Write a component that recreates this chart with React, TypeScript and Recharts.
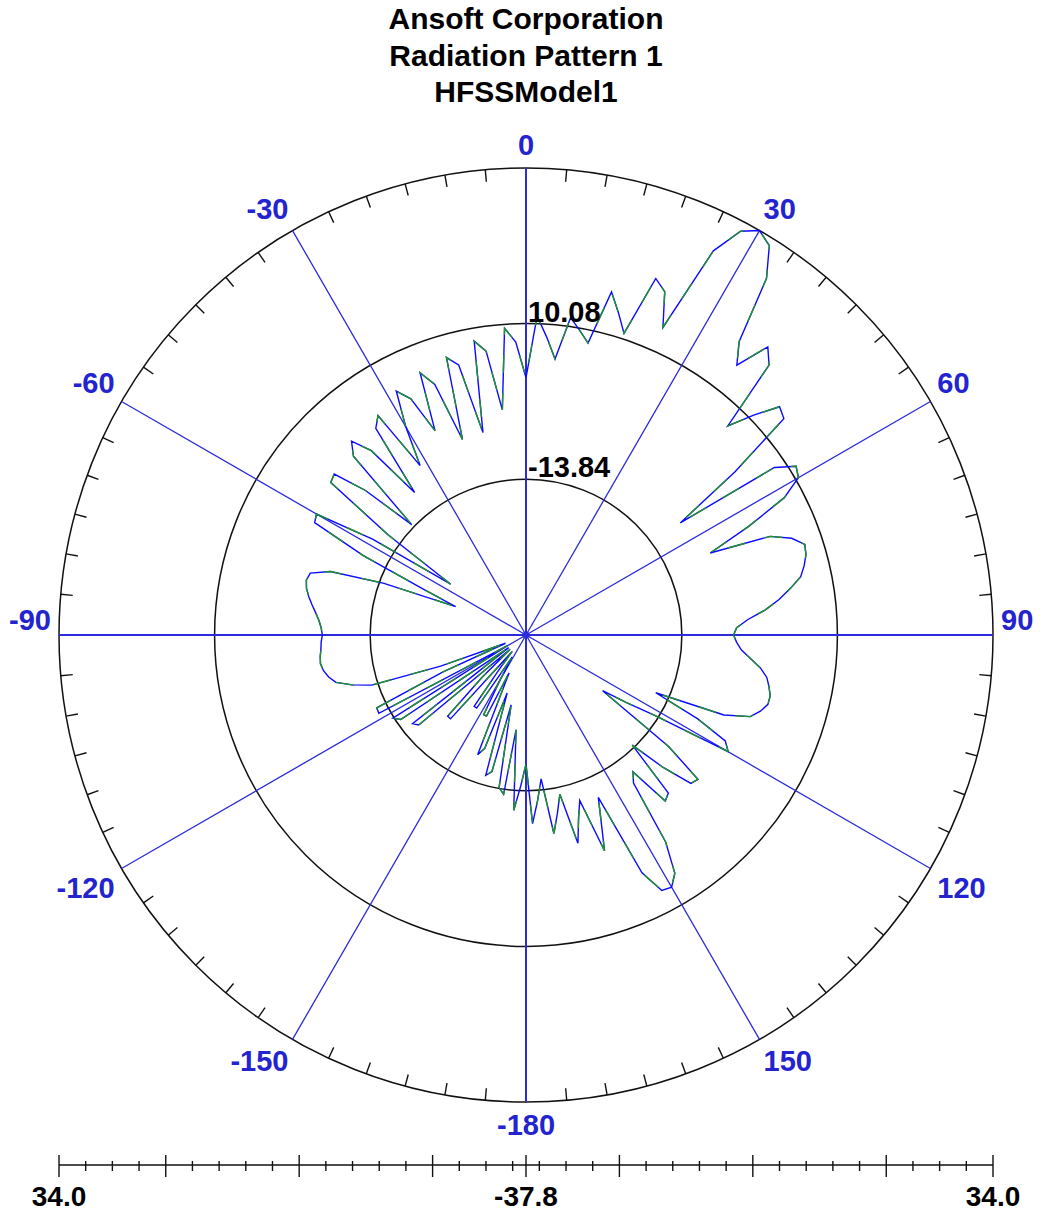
import React from 'react';
import {
  RadarChart,
  Radar,
  PolarGrid,
  PolarAngleAxis,
  PolarRadiusAxis,
  LineChart,
  Line,
  XAxis,
  YAxis,
} from 'recharts';

// far-field cut, sampled every 2 deg from -180 to 180
const thetaDeg: number[] = Array.from({ length: 181 }, (_, i) => -180 + i * 2);

// gain in dB, same order as thetaDeg
const gainDb: number[] = [
  -18.1, -14.7, -10.9, -23.3, -13.2, -14.1, -27.0, -16.3, -15.5, -28.6,
  -19.4, -18.1, -31.6, -24.1, -24.1, -30.1, -34.0, -24.4, -24.4, -31.6,
  -34.7, -20.6, -20.6, -28.6, -34.7, -16.4, -15.8, -34.7, -14.7, -13.8,
  -34.7, -12.3, -12.4, -24.0, -34.6, -24.0, -13.0, -10.1, -7.8, -6.9,
  -6.3, -6.0, -6.1, -6.3, -6.4, -6.6, -6.4, -6.0, -5.4, -4.7,
  -4.0, -3.4, -3.1, -3.4, -6.3, -14.7, -26.3, -20.9, -10.1, -1.1,
  -0.7, -10.1, -24.0, -11.7, 0.2, 0.6, -4.7, -13.5, 0.3, 2.2,
  -0.9, -10.1, 1.4, 2.8, -7.2, -0.9, 4.6, 2.5, -3.5, 5.6,
  3.1, -6.3, 6.5, 4.9, -6.1, 8.0, 6.2, -3.1, 9.4, 7.2,
  1.7, 11.2, 8.0, 4.8, 11.4, 9.7, 8.0, 16.5, 13.7, 10.9,
  20.5, 19.1, 13.9, 27.9, 32.5, 34.0, 32.8, 28.3, 17.9, 14.8,
  20.0, 18.0, 6.8, 10.8, 14.6, 13.9, 2.9, -8.6, 8.2, 11.1,
  10.5, 7.1, 0.2, -6.9, 2.6, 5.6, 7.2, 6.9, 6.2, 5.3,
  3.4, 1.4, -0.9, -3.7, -5.5, -6.0, -5.5, -4.7, -3.2, -1.5,
  -0.3, 0.3, 0.8, 0.8, 0.0, -1.2, -5.1, -16.1, -8.6, -3.2,
  -2.0, -14.7, -19.4, -23.4, -10.1, -3.4, -3.8, -8.6, -14.4, -5.2,
  -4.6, -11.2, -9.8, 0.5, 5.3, 6.9, 6.6, 2.8, -10.6, -7.1,
  -2.6, -11.2, -8.6, -4.9, -12.9, -10.1, -7.1, -15.7, -12.4, -8.9,
  -18.1,
];

const titleLines = ['Ansoft Corporation', 'Radiation Pattern 1', 'HFSSModel1'];

const radiusMin = -37.8;
const radiusMax = 34.0;
const ringValues = [-13.84, 10.08, 34.0];

const spokeDeg = [0, 30, 60, 90, 120, 150, 180, -150, -120, -90, -60, -30];
const mainAxesDeg = [0, 90, 180, -90];
const angleTicks = Array.from({ length: 72 }, (_, i) => -175 + i * 5);

// bottom dB scale: offset from centre, mirrored both sides
const scaleSpan = radiusMax - radiusMin;
const scaleStep = scaleSpan / 17.5;
const scaleMinor = Array.from({ length: 17 }, (_, k) => (k + 0.5) * scaleStep);
const scaleTicks = [-scaleSpan, ...scaleMinor.map((v) => -v).reverse(), 0, ...scaleMinor, scaleSpan];
const scaleMajorIdx = [3, 8, 13];
const scaleLabels = ['34.0', '-37.8', '34.0'];

const CX = 526;
const CY = 635;
const R = 467;

const FONT = '"Liberation Sans", Arial, sans-serif';
const LABEL_BLUE = '#2323cf';
const SPOKE_BLUE = '#2b2bdc';
const TRACE_BLUE = '#0a0aff';
const TRACE_GREEN = '#22922a';

const data = thetaDeg.map((t, i) => ({ theta: t, gain: gainDb[i] }));
const scaleData = [
  { x: -scaleSpan, y: 0 },
  { x: scaleSpan, y: 0 },
];

const AngleTick = (props: any) => {
  const t = props.payload.value as number;
  const a = (t * Math.PI) / 180;
  const s = Math.sin(a);
  const c = Math.cos(a);
  if (t % 30 === 0) {
    const lx = CX + 475 * s;
    const ly = CY - 475 * c + (c > -0.01 ? -15 : 15);
    const anchor = Math.abs(s) < 0.01 ? 'middle' : s > 0 ? 'start' : 'end';
    return (
      <text
        x={lx}
        y={ly}
        textAnchor={anchor}
        dominantBaseline="central"
        fontFamily={FONT}
        fontWeight="bold"
        fontSize={29}
        fill={LABEL_BLUE}
      >
        {t === 180 ? '-180' : String(t)}
      </text>
    );
  }
  return (
    <line
      x1={CX + R * s}
      y1={CY - R * c}
      x2={CX + (R - 12) * s}
      y2={CY - (R - 12) * c}
      stroke="#111"
      strokeWidth={1.4}
    />
  );
};

const RingTick = (props: any) => {
  const v = props.payload.value as number;
  if (v === radiusMax) return null;
  return (
    <text
      x={props.x + 2}
      y={props.y - 1}
      textAnchor="start"
      fontFamily={FONT}
      fontWeight="bold"
      fontSize={29}
      fill="#000"
    >
      {v.toFixed(2)}
    </text>
  );
};

const SCALE_Y = 35;

const ScaleTick = (props: any) => {
  const v = props.payload.value as number;
  const x = props.x as number;
  const k = scaleMinor.findIndex((m) => Math.abs(m - Math.abs(v)) < 1e-6);
  const isEnd = Math.abs(Math.abs(v) - scaleSpan) < 1e-6;
  const isCenter = Math.abs(v) < 1e-6;
  const major = isEnd || isCenter || scaleMajorIdx.includes(k);
  let label: string | null = null;
  if (isEnd && v < 0) label = scaleLabels[0];
  if (isCenter) label = scaleLabels[1];
  if (isEnd && v > 0) label = scaleLabels[2];
  return (
    <g>
      <line
        x1={x}
        x2={x}
        y1={SCALE_Y - (major ? 10 : 4)}
        y2={SCALE_Y + (major ? 12 : 6)}
        stroke="#111"
        strokeWidth={1.4}
      />
      {label && (
        <text
          x={x}
          y={SCALE_Y + 31}
          textAnchor="middle"
          dominantBaseline="central"
          fontFamily={FONT}
          fontWeight="bold"
          fontSize={28}
          fill="#000"
        >
          {label}
        </text>
      )}
    </g>
  );
};

export default function App() {
  return (
    <div style={{ position: 'absolute', left: 0, top: 0, width: 1042, height: 1213, background: '#fff' }}>
      <div
        style={{
          position: 'absolute',
          left: 0,
          top: 1,
          width: 1052,
          textAlign: 'center',
          fontFamily: FONT,
          fontWeight: 'bold',
          fontSize: 30,
          lineHeight: '36.5px',
          color: '#000',
        }}
      >
        {titleLines.map((l) => (
          <div key={l}>{l}</div>
        ))}
      </div>

      <div style={{ position: 'absolute', left: 0, top: 0 }}>
        <RadarChart
          width={1042}
          height={1140}
          data={data}
          cx={CX}
          cy={CY}
          innerRadius={0}
          outerRadius={R}
          startAngle={270}
          endAngle={-90}
          margin={{ top: 0, right: 0, bottom: 0, left: 0 }}
        >
          <PolarGrid
            gridType="circle"
            radialLines={false}
            polarRadius={ringValues.map((v) => ((v - radiusMin) / (radiusMax - radiusMin)) * R)}
            stroke="#111"
            strokeWidth={1.5}
          />
          <PolarGrid
            gridType="circle"
            polarRadius={[]}
            polarAngles={spokeDeg.map((t) => 90 - t)}
            stroke={SPOKE_BLUE}
            strokeWidth={1.3}
          />
          <PolarGrid
            gridType="circle"
            polarRadius={[]}
            polarAngles={mainAxesDeg.map((t) => 90 - t)}
            stroke={SPOKE_BLUE}
            strokeWidth={2}
          />
          <PolarAngleAxis
            dataKey="theta"
            type="number"
            domain={[-180, 180]}
            ticks={angleTicks}
            axisLine={false}
            tickLine={false}
            tick={AngleTick}
          />
          <PolarRadiusAxis
            angle={90}
            type="number"
            domain={[radiusMin, radiusMax]}
            ticks={ringValues}
            axisLine={false}
            tickLine={false}
            tick={RingTick}
          />
          <Radar
            dataKey="gain"
            stroke={TRACE_BLUE}
            strokeWidth={1.4}
            fill="none"
            fillOpacity={0}
            dot={false}
            isAnimationActive={false}
          />
          <Radar
            dataKey="gain"
            stroke={TRACE_GREEN}
            strokeWidth={1.4}
            strokeDasharray="18 20"
            fill="none"
            fillOpacity={0}
            dot={false}
            isAnimationActive={false}
          />
          <circle cx={CX} cy={CY} r={3.5} fill={SPOKE_BLUE} />
        </RadarChart>
      </div>

      <div style={{ position: 'absolute', left: 0, top: 1130 }}>
        <LineChart
          width={1042}
          height={83}
          data={scaleData}
          margin={{ top: 5, right: 49, bottom: 0, left: 59 }}
        >
          <XAxis
            dataKey="x"
            type="number"
            domain={[-scaleSpan, scaleSpan]}
            ticks={scaleTicks}
            interval={0}
            height={48}
            axisLine={{ stroke: '#111', strokeWidth: 1.5 }}
            tickLine={false}
            tick={ScaleTick}
          />
          <YAxis hide domain={[0, 1]} />
          <Line dataKey="y" stroke="none" dot={false} isAnimationActive={false} />
        </LineChart>
      </div>
    </div>
  );
}
